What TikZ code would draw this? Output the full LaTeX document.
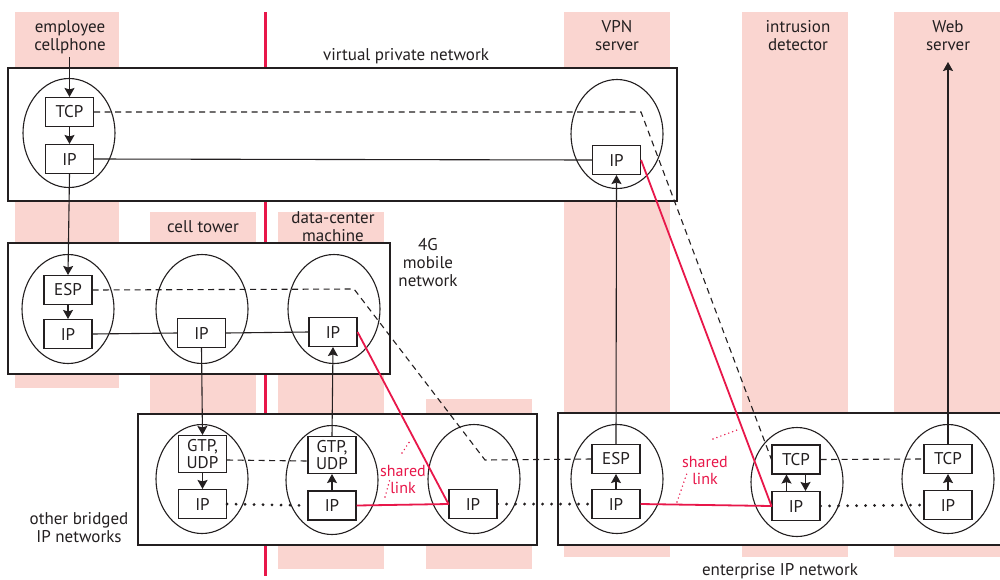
\documentclass[tikz,border=0pt]{standalone}
\usepackage{fontspec}
\setmainfont{PT Sans}
\usetikzlibrary{shapes.geometric,arrows.meta}
\definecolor{ink}{HTML}{231F20}
\definecolor{band}{HTML}{FAD5D0}
\definecolor{wire}{HTML}{E8174A}
\begin{document}
\begin{tikzpicture}[x=1pt,y=-1pt,
  lbl/.style={font=\fontsize{17}{18}\selectfont, text=ink, align=center, inner sep=0pt},
  redlbl/.style={font=\fontsize{16}{17}\selectfont, text=wire, align=center, inner sep=0pt},
  proto/.style={draw=ink, line width=1.1pt, fill=white, minimum width=48pt,
    minimum height=29pt, inner sep=0pt, text=ink, font=\fontsize{17}{17}\selectfont, align=center},
  host/.style={draw=ink, line width=1.1pt, ellipse, minimum width=92pt,
    minimum height=109pt, inner sep=0pt},
  netbox/.style={draw=ink, line width=1.1pt, fill=white},
  arr/.style={draw=ink, line width=1.1pt, -{Stealth[length=9pt,width=10pt,inset=1.5pt]}},
  link/.style={draw=ink, line width=1.1pt},
  tunnel/.style={draw=ink, line width=1.1pt, dash pattern=on 6pt off 4.5pt},
  hop/.style={draw=ink, line width=3.1pt, dash pattern=on 0pt off 9pt, line cap=round},
  wireline/.style={draw=wire, line width=1.8pt, line join=round},
  leader/.style={draw=wire, line width=1.6pt, dash pattern=on 0pt off 4.2pt, line cap=round}]
\useasboundingbox (0,0) rectangle (1000,579);

% machine columns
\fill[band] (15,12) rectangle (119,388);
\fill[band] (150,212) rectangle (256,420);
\fill[band] (278,212) rectangle (384,569);
\fill[band] (426,399) rectangle (532,569);
\fill[band] (564,12) rectangle (670,557);
\fill[band] (742,12) rectangle (848,557);
\fill[band] (894,12) rectangle (1000,557);

% boundary line
\draw[wire, line width=3pt] (265.5,12) -- (265.5,576);

% networks
\draw[netbox] (8,68) rectangle (677,201);
\draw[netbox] (8,243) rectangle (390,374);
\draw[netbox] (138,414) rectangle (537,545);
\draw[netbox] (558,413) rectangle (1010,545);

% labels
\node[lbl, anchor=base] (empl) at (70,50) {employee\\cellphone};
\node[lbl, anchor=base] (vpns) at (617,50) {VPN\\server};
\node[lbl, anchor=base] (ids) at (798,50) {intrusion\\detector};
\node[lbl, anchor=base] (webs) at (948,50) {Web\\server};
\node[lbl, anchor=base] (vpnl) at (406,60) {virtual private network};
\node[lbl, anchor=base] (cell) at (203,232) {cell tower};
\node[lbl, anchor=base] (dcm) at (333,241) {data-center\\machine};
\node[lbl, anchor=base] (mob) at (428,286) {4G\\mobile\\network};
\node[lbl, anchor=base] (obr) at (79,542) {other bridged\\IP networks};
\node[lbl, anchor=base] (ent) at (780,575) {enterprise IP network};

% hosts
\node[host] (h1) at (69,133) {};
\node[host] (h2) at (617,134) {};
\node[host] (h3) at (68,309) {};
\node[host] (h4) at (202,309) {};
\node[host] (h5) at (334,309) {};
\node[host] (h6) at (202,479) {};
\node[host] (h7) at (332,480) {};
\node[host] (h8) at (474,479) {};
\node[host] (h9) at (617,479) {};
\node[host] (h10) at (797,482) {};
\node[host] (h11) at (948,479) {};

% protocol layers
\node[proto] (tcp1) at (69.5,112) {TCP};
\node[proto] (ip1) at (69.5,159) {IP};
\node[proto] (vip) at (616.5,160) {IP};
\node[proto] (esp2) at (68,290) {ESP};
\node[proto] (ip2a) at (68,334) {IP};
\node[proto] (ip2b) at (201.5,333) {IP};
\node[proto] (ip2c) at (333,332) {IP};
\node[proto, minimum height=37pt] (gtp1) at (202.5,454) {GTP,\\UDP};
\node[proto, minimum height=37pt] (gtp2) at (332,455) {GTP,\\UDP};
\node[proto] (esp3) at (616,459) {ESP};
\node[proto] (tcp3) at (796,459.5) {TCP};
\node[proto] (tcp4) at (948,459) {TCP};
\node[proto] (ip3a) at (202.5,504) {IP};
\node[proto] (ip3b) at (332,505.5) {IP};
\node[proto] (ip3c) at (473,504) {IP};
\node[proto] (ip3d) at (616,504) {IP};
\node[proto] (ip3e) at (796,506) {IP};
\node[proto] (ip3f) at (948,505) {IP};

% bends and free ends
\coordinate (vbend) at (641,112);
\coordinate (dbend1) at (354,289);
\coordinate (dbend2) at (485,460);
\coordinate (webtip) at (948,62);
\coordinate (emtop) at (69.5,57);

% tunnels
\draw[tunnel] (tcp1.east) -- (vbend) -- (tcp3.west);
\draw[tunnel] (tcp3.east) -- (tcp4.west);
\draw[tunnel] (esp2.east) -- (dbend1) -- (dbend2) -- (esp3.west);
\draw[tunnel] ([yshift=-6pt]gtp1.east) -- ([yshift=-6pt]gtp2.west);

% network links
\draw[link] (ip1.east) -- (vip.west);
\draw[link] (ip2a.east) -- (ip2b.west);
\draw[link] (ip2b.east) -- (ip2c.west);
\draw[hop] (ip3a.east) -- (ip3b.west);
\draw[hop] (ip3c.east) -- (ip3d.west);
\draw[hop] (ip3e.east) -- (ip3f.west);

% shared links
\draw[wireline] (ip2c.east) -- (ip3c.west) -- (ip3b.east);
\draw[wireline] (vip.east) -- (ip3e.west) -- (ip3d.east);

\node[redlbl, anchor=base] (sh1) at (403,493) {shared\\link};
\node[redlbl, anchor=base] (sh2) at (705,484) {shared\\link};
\coordinate (l1a) at (385,497);
\coordinate (l1b) at (390,479);
\coordinate (l1c) at (402,453);
\coordinate (l1d) at (410,441);
\coordinate (l2a) at (677,502);
\coordinate (l2b) at (687,473);
\coordinate (l2c) at (713,439);
\coordinate (l2d) at (737,430);
\draw[leader] (l1a) -- (l1b);
\draw[leader] (l1c) -- (l1d);
\draw[leader] (l2a) -- (l2b);
\draw[leader] (l2c) -- (l2d);

% data path
\draw[arr] (emtop) -- (tcp1.north);
\draw[arr] (tcp1.south) -- (ip1.north);
\draw[arr] (ip1.south) -- (esp2.north);
\draw[arr] (esp2.south) -- (ip2a.north);
\draw[arr] (ip2b.south) -- (gtp1.north);
\draw[arr] (gtp1.south) -- (ip3a.north);
\draw[arr] (ip3b.north) -- (gtp2.south);
\draw[arr] (gtp2.north) -- (ip2c.south);
\draw[arr] (ip3d.north) -- (esp3.south);
\draw[arr] (esp3.north) -- (vip.south);
\draw[arr] ([xshift=-9.5pt]ip3e.north) -- ([xshift=-9.5pt]tcp3.south);
\draw[arr] ([xshift=9.5pt]tcp3.south) -- ([xshift=9.5pt]ip3e.north);
\draw[arr] (ip3f.north) -- (tcp4.south);
\draw[arr] (tcp4.north) -- (webtip);
\end{tikzpicture}
\end{document}
